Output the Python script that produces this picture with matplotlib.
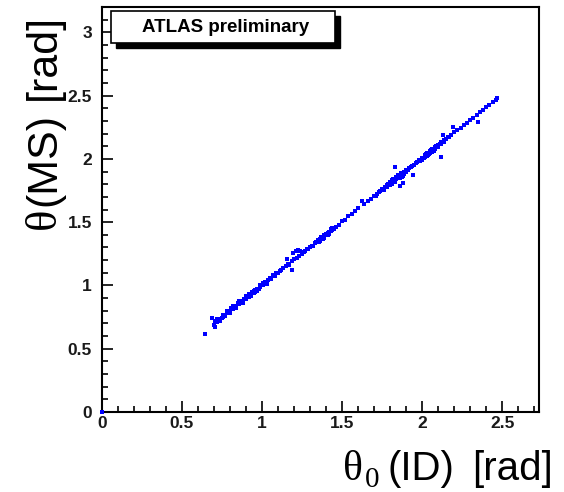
import matplotlib
matplotlib.use("Agg")
import matplotlib.pyplot as plt
from matplotlib.patches import Rectangle

# theta_0 from the inner detector (x) and theta from the muon spectrometer (y), in rad
theta_id = [
    0.0,
    0.645, 0.686, 0.707,
    0.70, 0.71, 0.72, 0.73, 0.74, 0.75, 0.76, 0.77, 0.78, 0.79,
    0.80, 0.81, 0.82, 0.83, 0.84, 0.85, 0.86, 0.87, 0.88, 0.89,
    0.90, 0.91, 0.92, 0.93, 0.94, 0.95, 0.955, 0.96, 0.97, 0.98, 0.99,
    1.00, 1.01, 1.02, 1.03, 1.04, 1.05, 1.06, 1.07, 1.08, 1.09,
    1.10, 1.11, 1.12, 1.13, 1.15, 1.16, 1.17, 1.19,
    1.154, 1.189, 1.195, 1.21, 1.225, 1.24,
    1.20, 1.22, 1.23, 1.25, 1.26, 1.27, 1.28, 1.29,
    1.30, 1.31, 1.32, 1.33, 1.34, 1.35, 1.355, 1.36, 1.37, 1.38, 1.385, 1.39,
    1.40, 1.41, 1.42, 1.43, 1.44, 1.45, 1.46, 1.48,
    1.50, 1.52, 1.54, 1.56, 1.58, 1.60, 1.628, 1.64, 1.66, 1.68,
    1.70, 1.71, 1.72, 1.73, 1.74, 1.75, 1.76, 1.77, 1.78, 1.79,
    1.80, 1.81, 1.815, 1.82, 1.83, 1.835, 1.84, 1.845, 1.85, 1.855,
    1.86, 1.865, 1.87, 1.875, 1.88, 1.89,
    1.83, 1.861, 1.882, 1.944,
    1.90, 1.91, 1.92, 1.93, 1.94, 1.95, 1.96, 1.97, 1.98, 1.99,
    2.00, 2.01, 2.02, 2.025, 2.03, 2.04, 2.045, 2.05, 2.055, 2.06,
    2.07, 2.075, 2.08, 2.09, 2.10, 2.11, 2.12, 2.13, 2.14, 2.15,
    2.16, 2.17, 2.18, 2.121, 2.131, 2.193,
    2.20, 2.22, 2.24, 2.26, 2.28, 2.30, 2.32, 2.34, 2.349, 2.36,
    2.38, 2.40, 2.42, 2.44, 2.46, 2.47,
    0.72, 0.74, 0.76, 0.78, 0.80, 0.82, 0.84, 0.86, 0.88, 0.90,
    0.92, 0.93, 0.95, 0.97, 0.99, 1.01, 1.03,
    1.36, 1.37, 1.38, 1.39, 1.40, 1.41, 1.42, 1.43, 1.44,
    1.78, 1.80, 1.81, 1.82, 1.83, 1.84, 1.85, 1.86, 1.87, 1.88, 1.89, 1.90,
    2.00, 2.02, 2.03, 2.04, 2.05, 2.06, 2.07, 2.08, 2.09, 2.10, 2.12, 2.14,
]
theta_ms = [
    0.0,
    0.617, 0.746, 0.675,
    0.69, 0.72, 0.71, 0.73, 0.735, 0.74, 0.77, 0.76, 0.785, 0.78,
    0.80, 0.82, 0.81, 0.83, 0.835, 0.86, 0.85, 0.875, 0.87, 0.895,
    0.89, 0.915, 0.91, 0.93, 0.945, 0.94, 0.965, 0.95, 0.975, 0.97, 0.99,
    1.005, 1.00, 1.025, 1.03, 1.04, 1.055, 1.05, 1.08, 1.075, 1.095,
    1.10, 1.115, 1.12, 1.135, 1.15, 1.17, 1.165, 1.19,
    1.21, 1.123, 1.26, 1.275, 1.28, 1.27,
    1.205, 1.22, 1.235, 1.25, 1.265, 1.27, 1.29, 1.285,
    1.30, 1.315, 1.315, 1.335, 1.34, 1.36, 1.345, 1.37, 1.365, 1.385, 1.375, 1.40,
    1.395, 1.415, 1.425, 1.43, 1.45, 1.445, 1.465, 1.48,
    1.51, 1.52, 1.545, 1.565, 1.585, 1.61, 1.664, 1.645, 1.665, 1.685,
    1.71, 1.705, 1.725, 1.74, 1.745, 1.76, 1.755, 1.78, 1.775, 1.80,
    1.795, 1.815, 1.83, 1.82, 1.835, 1.845, 1.84, 1.86, 1.85, 1.845,
    1.865, 1.875, 1.87, 1.86, 1.885, 1.895,
    1.933, 1.782, 1.809, 1.875,
    1.90, 1.915, 1.925, 1.935, 1.945, 1.955, 1.965, 1.975, 1.99, 1.985,
    2.01, 2.005, 2.03, 2.04, 2.025, 2.05, 2.035, 2.06, 2.07, 2.055,
    2.08, 2.065, 2.09, 2.095, 2.11, 2.115, 2.13, 2.135, 2.15, 2.155,
    2.17, 2.175, 2.185, 2.012, 2.19, 2.249,
    2.21, 2.225, 2.245, 2.27, 2.285, 2.31, 2.325, 2.345, 2.289, 2.37,
    2.385, 2.41, 2.425, 2.45, 2.465, 2.48,
    0.735, 0.72, 0.75, 0.80, 0.785, 0.835, 0.82, 0.875, 0.86, 0.915,
    0.935, 0.915, 0.96, 0.955, 1.005, 1.02, 1.015,
    1.35, 1.385, 1.37, 1.385, 1.41, 1.40, 1.41, 1.445, 1.435,
    1.79, 1.82, 1.80, 1.84, 1.82, 1.855, 1.87, 1.85, 1.885, 1.865, 1.88, 1.915,
    1.995, 2.015, 2.045, 2.03, 2.045, 2.075, 2.06, 2.075, 2.105, 2.095, 2.115, 2.135,
]

x_ticks = [0, 0.5, 1, 1.5, 2, 2.5]
x_ticklabels = ["0", "0.5", "1", "1.5", "2", "2.5"]
y_ticks = [0, 0.5, 1, 1.5, 2, 2.5, 3]
y_ticklabels = ["0", "0.5", "1", "1.5", "2", "2.5", "3"]

fig = plt.figure(figsize=(5.64, 4.92), dpi=100)
W, H = 564, 492
ax = fig.add_axes([101.7 / W, 1 - 412 / H, (539 - 101.7) / W, (412 - 7) / H])

ax.scatter(theta_id, theta_ms, s=11, marker='s', color='#0000ff', linewidths=0, zorder=3, clip_on=False)

ax.set_xlim(0, 2.73)
ax.set_ylim(0, 3.2)
ax.set_xticks(x_ticks)
ax.set_xticklabels(x_ticklabels)
ax.set_yticks(y_ticks)
ax.set_yticklabels(y_ticklabels)
ax.set_xticks([i / 10 for i in range(28)], minor=True)
ax.set_yticks([i / 10 for i in range(33)], minor=True)
ax.tick_params(which='both', direction='in', top=False, right=False, width=1.2, color='black')
ax.tick_params(which='major', length=8)
ax.tick_params(which='minor', length=4.3)
ax.tick_params(axis='x', which='major', pad=3)
ax.tick_params(axis='y', which='major', pad=7)
for lab in ax.get_xticklabels() + ax.get_yticklabels():
    lab.set_fontfamily('Liberation Sans')
    lab.set_fontweight('bold')
    lab.set_fontsize(12.5)
    lab.set_color('#1a1a1a')
for sp in ax.spines.values():
    sp.set_linewidth(1.5)

def px(x, y):
    return x / W, 1 - y / H

# x axis title: theta_0 (ID) [rad]
fig.text(*px(343, 480), '\u03b8', fontsize=30, fontfamily='Liberation Serif', ha='left', va='baseline')
fig.text(*px(365, 487), '0', fontsize=21, fontfamily='Liberation Serif', ha='left', va='baseline')
fig.text(*px(387, 480), '(ID)', fontsize=29, fontfamily='Liberation Sans', ha='left', va='baseline')
fig.text(*px(553, 480), '[rad]', fontsize=29, fontfamily='Liberation Sans', ha='right', va='baseline')

# y axis title: theta(MS) [rad]
fig.text(*px(55, 229), '\u03b8', fontsize=32, fontfamily='Liberation Serif', rotation=90,
         rotation_mode='anchor', ha='left', va='baseline')
fig.text(*px(55, 206), '(MS)', fontsize=31, fontfamily='Liberation Sans', rotation=90,
         rotation_mode='anchor', ha='left', va='baseline')
fig.text(*px(55, 100), '[rad]', fontsize=31, fontfamily='Liberation Sans', rotation=90,
         rotation_mode='anchor', ha='left', va='baseline')

# ATLAS preliminary label box with shadow
fig.patches.append(Rectangle((116 / W, 1 - 48 / H), 224 / W, 32 / H,
                             transform=fig.transFigure, facecolor='black', edgecolor='black', zorder=5))
fig.patches.append(Rectangle((111 / W, 1 - 43 / H), 224 / W, 32 / H,
                             transform=fig.transFigure, facecolor='white', edgecolor='black',
                             linewidth=1.2, zorder=6))
fig.text(*px(226, 27), 'ATLAS preliminary', fontsize=13.5, fontweight='bold',
         fontfamily='Liberation Sans', ha='center', va='center', zorder=7)

fig.savefig('out.png', dpi=100)
